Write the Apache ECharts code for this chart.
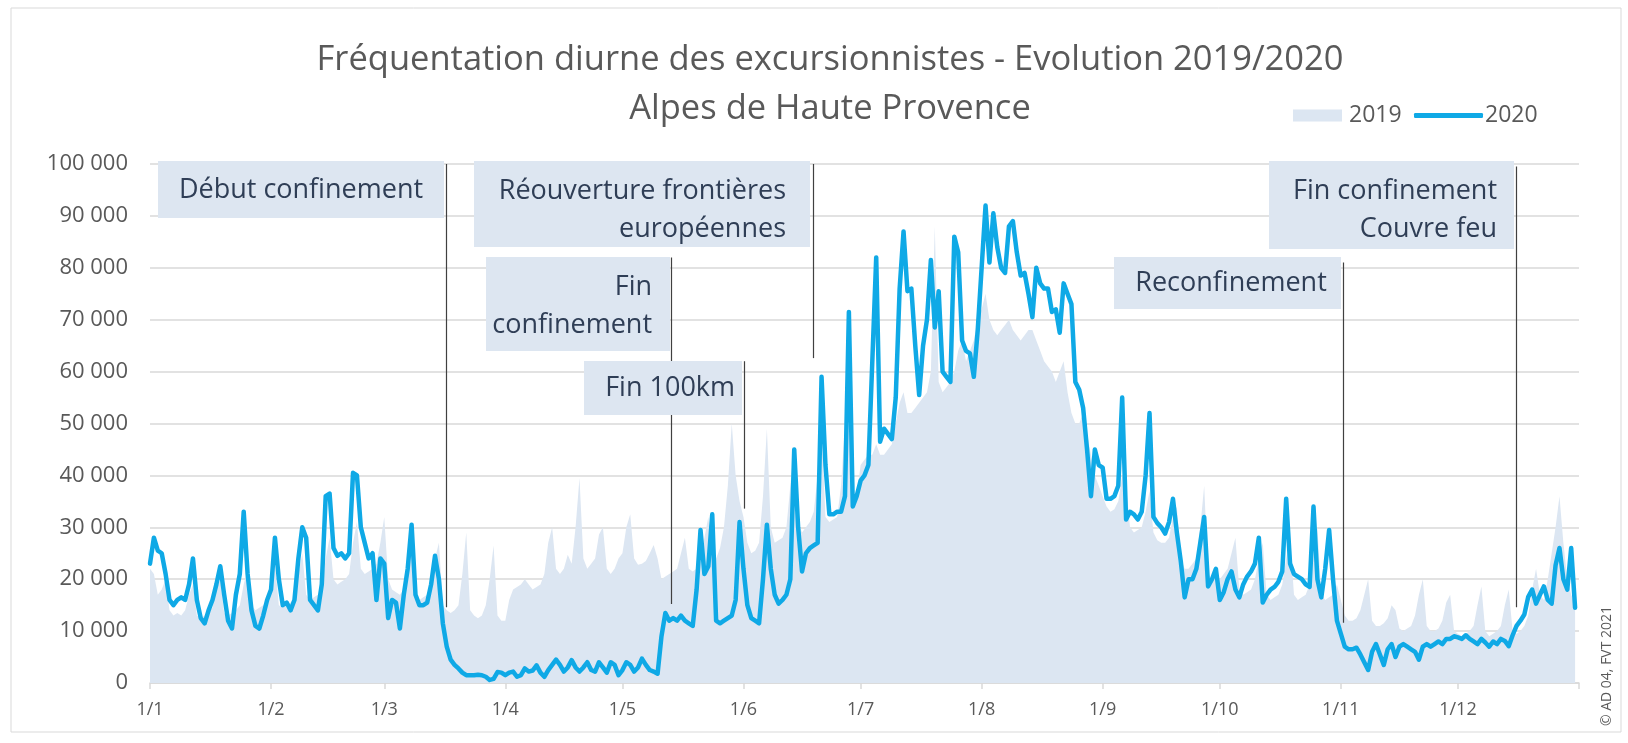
<!DOCTYPE html>
<html><head><meta charset="utf-8">
<script src="https://cdn.jsdelivr.net/npm/echarts@6/dist/echarts.min.js"></script>
<style>html,body{margin:0;padding:0;background:#fff;}#c{width:1628px;height:743px;}</style>
</head><body><div id="c"></div>
<script>
// ---------- data ----------
const monthLabels = ['1/1','1/2','1/3','1/4','1/5','1/6','1/7','1/8','1/9','1/10','1/11','1/12'];
const monthLengths = [31,29,31,30,31,30,31,31,30,31,30,31];

const v2020_jan = [23000,28000,25500,25000,21000,16000,15000,16000,16500,16000,19000,24000,16000,12500,11500,14000,16000,19000,22500,17000,12000,10500,17000,21000,33000,21000,14000,11000,10500,13000,16000];
const v2020_feb = [18000,28000,20000,15000,15500,14000,16000,24000,30000,28000,16000,15000,14000,19000,36000,36500,26000,24500,25000,24000,25000,40500,40000,30000,27000,24000,25000,16000,24000];
const v2020_mar = [23000,12500,16000,15500,10500,17000,22000,30500,17000,15000,15000,15500,19000,24500,20000,11500,7000,4500,3500,2800,2000,1500,1500,1500,1600,1500,1200,600,800,2100,2000];
const v2020_apr = [1500,2000,2200,1200,1500,2800,2200,2400,3400,2000,1200,2500,3500,4500,3500,2200,3000,4400,3000,2200,3000,4000,2500,2200,4000,3000,2000,4000,3500,1500];
const v2020_may = [2500,4000,3500,2200,3000,4700,3500,2500,2200,1800,9000,13500,12000,12500,12000,13000,12000,11500,11000,18000,29500,21000,22500,32500,12000,11500,12000,12500,13000,16000,31000];
const v2020_jun = [22000,15000,12500,12000,11500,20000,30500,22000,17000,15300,16000,17000,20000,45000,30000,21500,25000,26000,26500,27000,59000,42000,32500,32500,33000,33000,36000,71500,34000,36000];
const v2020_jul = [39000,40000,42000,62000,82000,46500,49000,48000,47000,55000,76000,87000,75500,76000,65000,55500,65000,70000,81500,68500,75500,60000,59000,58000,86000,83000,66000,64000,63500,59000,68000];
const v2020_aug = [80000,92000,81000,90500,84000,80000,79000,88000,89000,83000,78500,79000,75000,70500,80000,77000,76000,76000,71500,72000,67500,77000,75000,73000,58000,56500,53000,45000,36000,45000,42000];
const v2020_sep = [41500,35500,35500,36000,38000,55000,31500,33000,32500,31500,33000,40000,52000,32000,30800,30000,28800,31000,35500,29000,23500,16500,20000,20000,22000,27000,32000,18600,20000,22000];
const v2020_oct = [16000,17500,20000,21500,18000,16500,19000,20500,21500,23000,28000,15500,17000,18000,18500,19500,21500,35500,23000,21000,20500,20000,19000,18500,34000,20000,16500,22000,29500,20000,12000];
const v2020_nov = [9500,7000,6500,6500,6800,5500,4000,2500,6000,7500,5500,3500,6500,7500,5000,7000,7500,7000,6500,6000,4500,7000,7500,7000,7500,8000,7500,8500,8500,9000];
const v2020_dec = [8800,8500,9200,8500,8000,7500,8500,7800,7000,8000,7500,8500,8100,7100,9200,11000,12000,13200,16600,18000,15300,17000,18600,16000,15300,22700,26000,20000,18000,26000,14500];

const v2019_jan = [22000,21000,17000,18000,20000,14000,13000,13500,13000,14000,17000,19000,13000,12500,13000,13500,14500,18000,20000,13500,13000,13500,14000,15000,19000,22000,15000,14000,14500,15000,16000];
const v2019_feb = [17000,23000,15000,14500,15000,15500,16500,21000,25000,17000,16000,16500,17000,18000,24000,28000,20000,19000,19500,20000,21000,27000,31000,22000,21000,21500,22000,23000,27000];
const v2019_mar = [32000,20000,18000,17500,17000,18000,24000,28000,17000,16000,16500,17000,18000,24000,27000,15000,14000,13500,14000,15000,21000,29000,14000,13000,12500,13000,15000,20000,26500,13000,12000];
const v2019_apr = [12000,16000,18000,18500,19000,20000,19000,18000,18500,19000,21000,27000,30000,22000,21000,22000,24700,23000,30000,39500,24000,22000,23000,24000,28600,30000,22000,21000,22000,24000];
const v2019_may = [25000,30000,32500,24000,22800,23000,23500,25000,26600,24000,20000,20500,21000,21500,22000,25000,28000,22000,21500,22000,24000,28000,32000,25000,24000,26000,30000,38000,50000,40000,35000];
const v2019_jun = [32000,27000,25000,25500,27000,36000,49000,30000,27000,27500,28000,30000,38000,45000,31000,29000,30000,31000,33000,40000,50000,32000,31000,31500,32000,38000,50000,55000,34000,36000];
const v2019_jul = [42000,43000,44000,44000,46000,44000,44000,45000,46000,50000,54000,56000,52000,52000,53000,54000,55000,56000,60000,88000,58000,56000,57000,58000,60000,64000,66000,62000,64000,66000,70000];
const v2019_aug = [72000,75000,70000,68000,67000,68000,69000,70000,68000,67000,66000,67000,68000,68000,66000,64000,62000,61000,60000,58000,60000,62000,56000,52000,50000,50000,52000,48000,44000,40000,38000];
const v2019_sep = [36000,34000,33000,33500,35000,40000,38000,30000,29000,29500,30000,33000,37000,29000,27500,27000,27000,28000,32000,34000,24000,22000,22000,23000,24000,30000,38000,21000,20000,20000];
const v2019_oct = [20000,21000,22000,25000,28000,18000,17000,17500,18000,20000,24000,27000,17000,16000,16500,17000,19000,24000,28000,17000,16000,16500,17000,19000,25000,30000,17000,16000,16500,17000,19000];
const v2019_nov = [16000,13000,12000,12000,12500,14000,17000,20000,12000,11000,11000,11500,12500,15000,14000,10500,10000,10500,11000,13000,17000,20000,11000,10000,10000,10500,12000,15500,17000,10000];
const v2019_dec = [9500,9000,9500,10000,11000,15000,18600,10000,9000,9500,10000,11000,15000,18000,10000,9500,10000,11000,13000,18000,22000,17000,16000,20000,25000,30000,36000,27000,20000,17000,15000];

// annotations: day index of the vertical line, and its value range
const annotationNames   = ['Début confinement','Fin confinement','Fin 100km','Réouverture frontières européennes','Reconfinement','Fin confinement Couvre feu'];
const annotationDays    = [76, 133.5, 152.3, 170, 305.6, 350];
const annotationTops    = [100000, 82000, 62000, 100000, 81000, 99500];
const annotationBottoms = [14600, 15200, 33600, 62600, 11600, 14600];

// ---------- build ----------
const values2020 = [].concat(v2020_jan,v2020_feb,v2020_mar,v2020_apr,v2020_may,v2020_jun,v2020_jul,v2020_aug,v2020_sep,v2020_oct,v2020_nov,v2020_dec);
const values2019 = [].concat(v2019_jan,v2019_feb,v2019_mar,v2019_apr,v2019_may,v2019_jun,v2019_jul,v2019_aug,v2019_sep,v2019_oct,v2019_nov,v2019_dec);
const monthStarts = [];
let acc = 0;
monthLengths.forEach(l => { monthStarts.push(acc); acc += l; });
const totalDays = acc; // 366
const tickDays = monthStarts.concat([totalDays]);

const FONT = '"Open Sans", "Noto Sans", sans-serif';
const GRAY = '#595959';
const BOX = '#dde6f1';
const BOXTXT = '#2f3e56';

function box(x, y, w, h, lines, tx, align, ys) {
  const els = [{ type: 'rect', shape: { x: x, y: y, width: w, height: h }, style: { fill: BOX }, z: 50 }];
  lines.forEach((t, i) => {
    els.push({ type: 'text', z: 51, style: { text: t, x: tx, y: ys[i], fill: BOXTXT, font: '27px ' + FONT, textAlign: align, textVerticalAlign: 'middle', verticalAlign: 'middle' } });
  });
  return els;
}

const graphics = [].concat(
  [{ type: 'rect', shape: { x: 11, y: 8, width: 1610, height: 724 }, style: { fill: 'none', stroke: '#d9d9d9', lineWidth: 1 }, z: 0, silent: true }],
  box(158, 161, 286, 57, ['Début confinement'], 301, 'center', [190]),
  box(474, 161, 336, 86, ['Réouverture frontières', 'européennes'], 786, 'right', [191, 229]),
  box(486, 257, 184, 94, ['Fin', 'confinement'], 652, 'right', [287, 325]),
  box(584, 361, 158, 54, ['Fin 100km'], 735, 'right', [388]),
  box(1114, 257, 227, 52, ['Reconfinement'], 1231, 'center', [283]),
  box(1269, 161, 245, 88, ['Fin confinement', 'Couvre feu'], 1497, 'right', [191, 229]),
  [{ type: 'text', z: 51, x: 1607, y: 666, rotation: Math.PI / 2,
     style: { text: '© AD 04, FVT 2021', x: 0, y: 0, fill: GRAY, font: '14px ' + FONT, textAlign: 'center', textVerticalAlign: 'middle', verticalAlign: 'middle' } }]
);

const markData = annotationDays.map((d, i) => [
  { coord: [d, annotationTops[i]] },
  { coord: [d, annotationBottoms[i]] }
]);

const chart = echarts.init(document.getElementById('c'), null, { renderer: 'canvas' });
chart.setOption({
  animation: false,
  backgroundColor: '#ffffff',
  textStyle: { fontFamily: FONT },
  title: {
    text: 'Fréquentation diurne des excursionnistes - Evolution 2019/2020\nAlpes de Haute Provence',
    left: 825, top: 31, textAlign: 'center',
    textStyle: { fontFamily: FONT, fontSize: 34.5, fontWeight: 'normal', color: GRAY, lineHeight: 49 }
  },
  legend: [
    { data: [{ name: '2019', icon: 'rect', itemStyle: { color: '#dce6f2', borderWidth: 0 } }],
      left: 1293, top: 104, padding: 0, itemWidth: 49, itemHeight: 12, itemGap: 0, selectedMode: false,
      textStyle: { color: GRAY, fontSize: 23, fontFamily: FONT, lineHeight: 22, padding: [0, 0, 0, 2] } },
    { data: [{ name: '2020', icon: 'roundRect', itemStyle: { color: '#0fa9e6', borderWidth: 0 } }],
      left: 1414, top: 104, padding: 0, itemWidth: 69, itemHeight: 5, itemGap: 0, selectedMode: false,
      textStyle: { color: GRAY, fontSize: 23, fontFamily: FONT, lineHeight: 22, padding: [0, 0, 0, -3] } }
  ],
  grid: { left: 150, right: 49, top: 164, bottom: 60, containLabel: false },
  xAxis: {
    type: 'value', min: 0, max: totalDays,
    axisLine: { show: true, lineStyle: { color: '#d9d9d9', width: 1.5 } },
    axisTick: { show: true, customValues: tickDays, length: 6, lineStyle: { color: '#d9d9d9', width: 1.5 } },
    axisLabel: { customValues: monthStarts, color: GRAY, fontSize: 18, fontFamily: FONT, margin: 18,
      formatter: v => monthLabels[monthStarts.indexOf(Math.round(v))] || '' },
    splitLine: { show: false }
  },
  yAxis: {
    type: 'value', min: 0, max: 100000, interval: 10000,
    axisLine: { show: false }, axisTick: { show: false },
    axisLabel: { color: GRAY, fontSize: 22, fontFamily: FONT, margin: 22,
      formatter: v => v === 0 ? '0' : (v / 1000) + ' 000' },
    splitLine: { lineStyle: { color: '#d9d9d9', width: 1.5 } }
  },
  series: [
    { name: '2019', type: 'line', data: values2019.map((v, i) => [i, v]), symbol: 'none',
      lineStyle: { width: 0, color: '#dce6f2' }, itemStyle: { color: '#dce6f2' },
      areaStyle: { color: '#dce6f2', opacity: 1 }, z: 1, silent: true },
    { name: '2020', type: 'line', data: values2020.map((v, i) => [i, v]), symbol: 'none',
      lineStyle: { width: 4.5, color: '#0fa9e6', join: 'round', cap: 'round' }, itemStyle: { color: '#0fa9e6' }, z: 3,
      markLine: { silent: true, symbol: 'none', animation: false, label: { show: false },
        lineStyle: { color: '#404040', width: 1.2, type: 'solid' }, data: markData } }
  ],
  graphic: graphics
});
</script>
</body></html>
